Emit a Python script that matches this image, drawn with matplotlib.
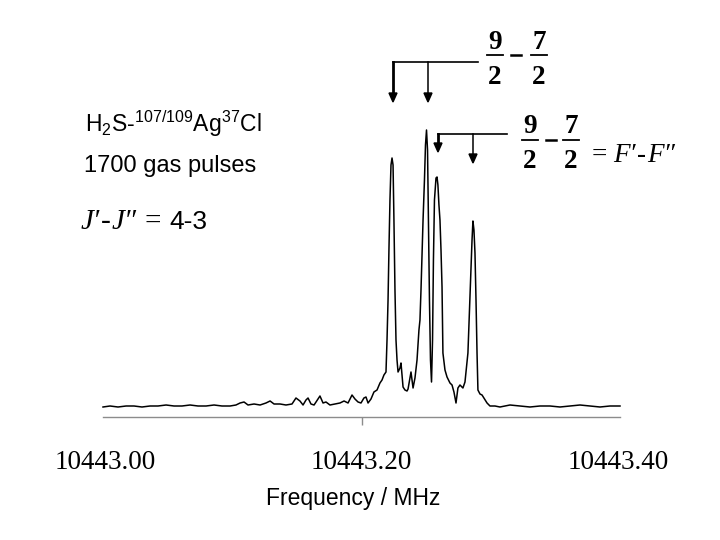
import matplotlib
matplotlib.use("Agg")
import matplotlib.pyplot as plt
import numpy as np

plt.rcParams['font.family'] = ['Liberation Sans', 'DejaVu Sans']

# ---- data: frequency offset from 10443.00 MHz and intensity (arb. units)
base_freq = 10443.00
freq_offset = [
    -0.0016, 0.0039, 0.0101, 0.0164, 0.0226, 0.0288, 0.0351, 0.0413, 0.0476, 0.0538,
    0.0600, 0.0663, 0.0725, 0.0788, 0.0850, 0.0912, 0.0975, 0.1021, 0.1053, 0.1084,
    0.1115, 0.1162, 0.1209, 0.1255, 0.1287, 0.1318, 0.1365, 0.1411, 0.1458, 0.1489,
    0.1520, 0.1544, 0.1567, 0.1583, 0.1606, 0.1630, 0.1661, 0.1676, 0.1700, 0.1723,
    0.1754, 0.1793, 0.1832, 0.1864, 0.1895, 0.1926, 0.1949, 0.1973, 0.1996, 0.2019,
    0.2035, 0.2051, 0.2074, 0.2097, 0.2121, 0.2144, 0.2160, 0.2175, 0.2191, 0.2199,
    0.2207, 0.2214, 0.2222, 0.2230, 0.2238, 0.2246, 0.2253, 0.2261, 0.2269, 0.2277,
    0.2285, 0.2300, 0.2308, 0.2316, 0.2324, 0.2339, 0.2355, 0.2363, 0.2378, 0.2386,
    0.2394, 0.2402, 0.2417, 0.2433, 0.2448, 0.2456, 0.2464, 0.2480, 0.2491, 0.2499,
    0.2507, 0.2515, 0.2522, 0.2530, 0.2538, 0.2546, 0.2554, 0.2561, 0.2569, 0.2581,
    0.2589, 0.2596, 0.2604, 0.2612, 0.2620, 0.2628, 0.2635, 0.2651, 0.2667, 0.2690,
    0.2706, 0.2721, 0.2737, 0.2752, 0.2768, 0.2791, 0.2807, 0.2830, 0.2842, 0.2854,
    0.2862, 0.2869, 0.2877, 0.2885, 0.2893, 0.2901, 0.2908, 0.2924, 0.2940, 0.2955,
    0.2979, 0.3002, 0.3041, 0.3080, 0.3158, 0.3236, 0.3314, 0.3392, 0.3470, 0.3548,
    0.3626, 0.3704, 0.3782, 0.3860, 0.3938, 0.4016,
]
intensity = [
    -1, 0, -1, 0, 0, -1, 0, 0, 1, 0,
    0, 1, 0, 0, 1, 0, 0, 1, 3, 4,
    1, 2, 1, 3, 5, 2, 2, 1, 2, 8,
    5, 1, 6, 8, 2, 1, 7, 10, 3, 4,
    1, 2, 3, 5, 3, 11, 7, 4, 3, 8,
    9, 3, 7, 14, 16, 23, 26, 31, 34, 66,
    106, 156, 206, 241, 248, 241, 186, 116, 66, 46,
    34, 38, 43, 31, 19, 16, 15, 17, 28, 34,
    26, 18, 28, 46, 76, 86, 116, 186, 226, 261,
    276, 256, 186, 106, 46, 24, 66, 146, 206, 228,
    229, 221, 201, 186, 156, 119, 53, 36, 29, 23,
    21, 14, 3, 18, 21, 18, 24, 53, 96, 136,
    166, 185, 176, 153, 106, 53, 16, 12, 11, 8,
    3, 0, 0, -1, 1, 0, -1, 0, 0, -1,
    0, 1, 0, -1, 0, 0,
]
tick_values = [10443.00, 10443.20, 10443.40]
tick_labels = ['10443.00', '10443.20', '10443.40']
x_label = 'Frequency / MHz'

freq = base_freq + np.array(freq_offset)
inten = np.array(intensity)

W, H = 720, 540
fig = plt.figure(figsize=(7.2, 5.4), dpi=100)
fig.patch.set_facecolor('white')

def fx(x):
    return x / W

def fy(y):
    return 1 - y / H

# axes: bottom spine at y=417 px, from x=103 to 620 px, top at 120 px
ax = fig.add_axes([fx(103), fy(417), (620 - 103) / W, (417 - 120) / H])
ax.plot(freq, inten, color='black', lw=1.1, clip_on=False)
ax.set_xlim(10442.9984, 10443.4016)
ax.set_ylim(-11, 286)
for s in ['top', 'right', 'left']:
    ax.spines[s].set_visible(False)
ax.spines['bottom'].set_color('#8c8c8c')
ax.spines['bottom'].set_linewidth(1.0)
ax.set_yticks([])
ax.xaxis.remove_overlapping_locs = False
ax.set_xticks(tick_values)
ax.set_xticklabels(tick_labels, fontfamily='Liberation Serif', fontsize=19.5)
ax.tick_params(axis='x', which='major', length=0, pad=24)
ax.set_xticks([tick_values[1]], minor=True)
ax.tick_params(axis='x', which='minor', length=6, color='#8c8c8c', width=1.0, direction='out')
ax.patch.set_alpha(0)

fig.text(fx(353), fy(505), x_label, ha='center', va='baseline', fontsize=16.5)

renderer = fig.canvas.get_renderer()

def text_run(x, y, parts):
    for s, kw, gap in parts:
        t = fig.text(fx(x), fy(y), s, ha='left', va='baseline', **kw)
        bb = t.get_window_extent(renderer)
        x += bb.width + gap

# left annotations
fig.text(fx(85), fy(132), r'$\mathregular{H_2S}$-$\mathregular{{}^{107/109}Ag^{37}Cl}$',
         ha='left', va='baseline', fontsize=16.5)
fig.text(fx(84), fy(172), '1700 gas pulses', ha='left', va='baseline', fontsize=17)

serif_it = dict(fontfamily=['Liberation Serif', 'DejaVu Serif'], fontstyle='italic', fontsize=21)
serif = dict(fontfamily=['Liberation Serif', 'DejaVu Serif'], fontsize=21)
sans = dict(fontsize=19)
text_run(81, 229, [('J\u2032', serif_it, 1), ('-', serif, 1), ('J\u2033', serif_it, 8),
                   ('=', serif, 8), ('4-3', sans, 0)])

# fractions
bold = dict(fontfamily='Liberation Serif', fontweight='bold', fontsize=19.5, ha='center', va='baseline')

def frac(cx, top_base, bar_y, bot_base, num, den, half=8):
    fig.text(fx(cx), fy(top_base), num, **bold)
    fig.text(fx(cx), fy(bot_base), den, **bold)
    fig.add_artist(plt.Line2D([fx(cx - half), fx(cx + half)], [fy(bar_y), fy(bar_y)],
                              color='black', lw=1.3))

def frac_pair(x1, x2, top_base, bar_y, bot_base):
    frac(x1, top_base, bar_y, bot_base, '9', '2')
    fig.add_artist(plt.Line2D([fx(x1 + 16), fx(x1 + 26)], [fy(bar_y), fy(bar_y)],
                              color='black', lw=1.8))
    frac(x2, top_base, bar_y, bot_base, '7', '2')

frac_pair(495, 539, 49, 55, 84)
frac_pair(530, 571, 133, 140, 168)

serif_it_f = dict(serif_it, fontsize=19.5)
serif_f = dict(serif, fontsize=19.5)
text_run(592, 162, [('=', serif_f, 6), ('F\u2032', serif_it_f, 1), ('-', serif_f, 1), ('F\u2033', serif_it_f, 0)])

# brackets with arrows
def bracket(x_left, x_right, x_end, y_h, tip_left, tip_right):
    fig.add_artist(plt.Line2D([fx(x_left), fx(x_end)], [fy(y_h), fy(y_h)], color='black', lw=1.2))
    for xx, tip, lw in [(x_left, tip_left, 2.0), (x_right, tip_right, 1.1)]:
        fig.add_artist(plt.Line2D([fx(xx), fx(xx)], [fy(y_h), fy(tip - 6)], color='black', lw=lw))
        fig.add_artist(plt.Polygon([[fx(xx - 4), fy(tip - 9)], [fx(xx + 4), fy(tip - 9)],
                                    [fx(xx), fy(tip)]], closed=True, color='black'))

bracket(393, 428, 478, 62, 102, 102)
bracket(438, 473, 507, 134, 152, 163)

fig.savefig('out.png', dpi=100, facecolor='white')
